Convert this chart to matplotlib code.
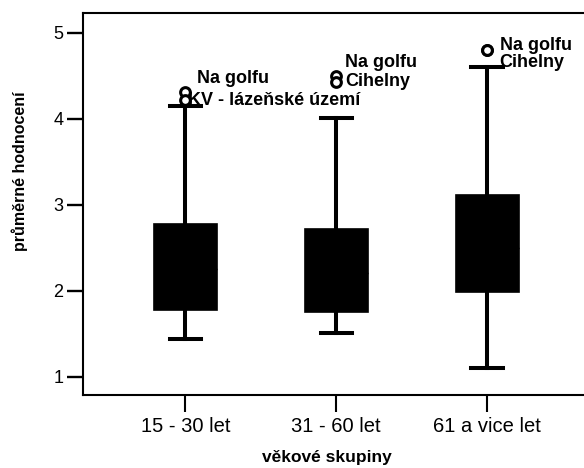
import matplotlib
matplotlib.use("Agg")
from matplotlib import pyplot as plt

plt.rcParams["font.family"] = ["Liberation Sans", "DejaVu Sans"]

# vekove skupiny a krabicove statistiky (prumerne hodnoceni)
skupiny = ["15 - 30 let", "31 - 60 let", "61 a vice let"]
dolni_vous = [1.44, 1.51, 1.10]
q1 = [1.78, 1.75, 1.99]
median = [2.25, 2.20, 2.50]
q3 = [2.77, 2.72, 3.11]
horni_vous = [4.15, 4.01, 4.60]

# odlehle hodnoty a jejich popisky
odlehle = [[4.31, 4.22], [4.50, 4.43], [4.80, 4.80]]
popisky = [["Na golfu", "KV - lázeňské území"],
           ["Na golfu", "Cihelny"],
           ["Na golfu", "Cihelny"]]

# posun popisku od bodu v pixelech (x, y)
posun = [[(12, 9), (3, -5)],
         [(9, 9), (9, -4)],
         [(13, 0), (12, -17)]]

fig = plt.figure(figsize=(5.84, 4.68), dpi=100)
ax = fig.add_axes([0.1426, 0.156, 0.878, 0.8156])

stats = []
for i in range(len(skupiny)):
    stats.append({
        "label": skupiny[i],
        "whislo": dolni_vous[i],
        "q1": q1[i],
        "med": median[i],
        "q3": q3[i],
        "whishi": horni_vous[i],
        "fliers": [],
    })

ax.bxp(stats, positions=[1, 2, 3], widths=0.418, capwidths=0.206,
       patch_artist=True, showfliers=False,
       boxprops=dict(facecolor="black", edgecolor="black", linewidth=1.2),
       medianprops=dict(color="black", linewidth=1),
       whiskerprops=dict(color="black", linewidth=2.9),
       capprops=dict(color="black", linewidth=2.9))

# odlehle body s popisky
for i, hodnoty in enumerate(odlehle):
    for j, v in enumerate(hodnoty):
        ax.plot(i + 1, v, "o", markersize=7, markerfacecolor="white",
                markeredgecolor="black", markeredgewidth=2.2, zorder=5)
        dx, dy = posun[i][j]
        ax.annotate(popisky[i][j], (i + 1, v), xytext=(dx, dy),
                    textcoords="offset pixels", ha="left", va="baseline",
                    fontsize=13, fontweight="bold", zorder=6)

ax.set_xlim(0.322, 3.723)
ax.set_ylim(0.787, 5.226)
ax.set_yticks([1, 2, 3, 4, 5])
ax.set_xticks([1, 2, 3])
ax.set_xticklabels(skupiny)

ax.spines["right"].set_visible(False)
for s in ["left", "bottom", "top"]:
    ax.spines[s].set_linewidth(1.5)
ax.tick_params(axis="y", length=11.5, width=1.7, pad=3, labelsize=13)
ax.tick_params(axis="x", length=12, width=1.5, pad=4, labelsize=14.5)

ax.set_xlabel("věkové skupiny", fontsize=12.5, fontweight="bold", va="center")
ax.xaxis.set_label_coords(0.475, -0.163)
ax.set_ylabel("průměrné hodnocení", fontsize=11.5, fontweight="bold",
              va="center", ha="center")
ax.yaxis.set_label_coords(-0.1235, 0.587)

plt.savefig("out.png", dpi=100)
plt.close()
